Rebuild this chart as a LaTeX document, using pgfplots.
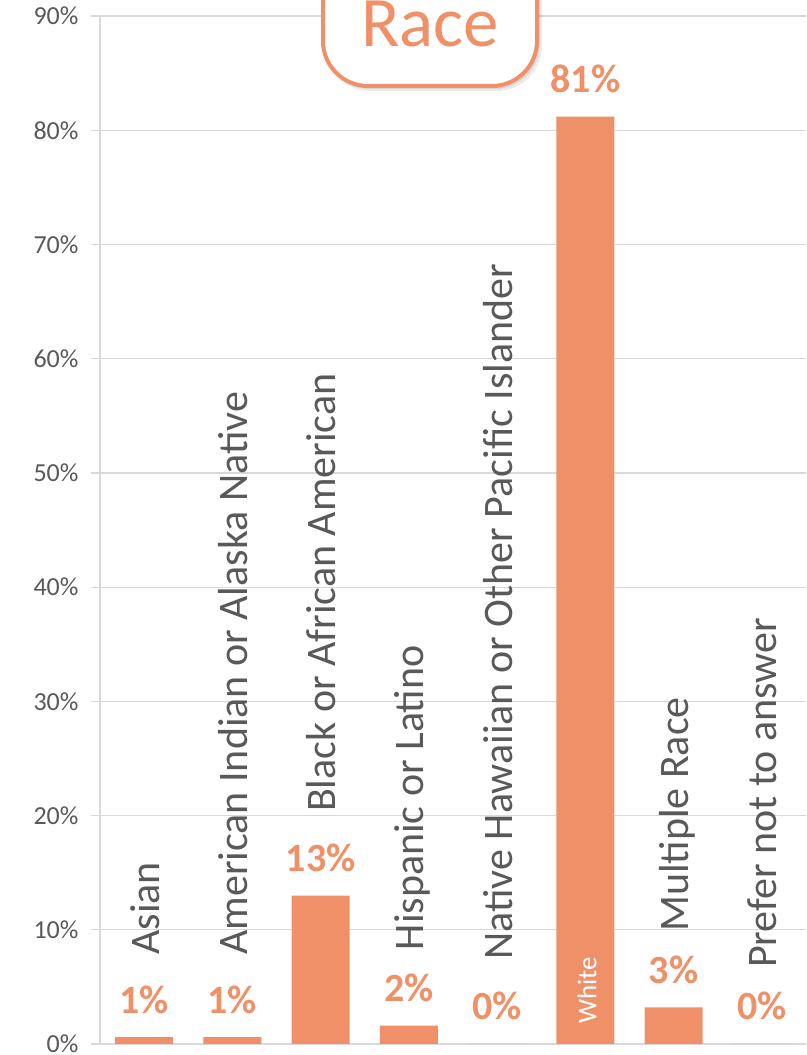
\documentclass[border=0pt]{standalone}
\usepackage{fontspec}
\setmainfont{Carlito}
\usepackage{pgfplots}
\pgfplotsset{compat=1.18}
\definecolor{barorange}{RGB}{240,144,104}
\definecolor{txtgray}{RGB}{89,89,89}
\definecolor{gridgray}{RGB}{217,217,217}
\tikzset{cat/.style={rotate=90, anchor=base west, inner sep=0pt, font=\fontsize{42}{50}\selectfont, text=txtgray}}
\begin{document}
\begin{tikzpicture}
\useasboundingbox (0pt,0pt) rectangle (806pt,1055pt);
\clip (0pt,0pt) rectangle (806pt,1055pt);
\begin{axis}[
  at={(100pt,11pt)}, anchor=south west,
  scale only axis, width=706pt, height=1028pt,
  xmin=-0.5, xmax=7.5, ymin=0, ymax=90,
  ybar, bar width=58pt,
  axis x line=bottom, axis y line=left,
  axis line style={gridgray, line width=1.2pt, -},
  xtick=\empty,
  ytick={0,10,...,90},
  yticklabel={\pgfmathprintnumber{\tick}\%},
  yticklabel style={font=\fontsize{26}{30}\selectfont, text=txtgray, xshift=-9pt},
  /pgf/number format/assume math mode=true,
  tick align=outside, major tick length=9pt,
  tick style={gridgray, line width=1.2pt},
  ymajorgrids, grid style={gridgray, line width=1.2pt},
  clip=false,
]
\addplot[fill=barorange, draw=none,
  nodes near coords={\pgfmathprintnumber[fixed,precision=0]{\pgfplotspointmeta}\%},
  every node near coord/.append style={font=\fontsize{40}{48}\selectfont\bfseries, text=barorange, anchor=base, yshift=24pt, inner sep=0pt},
] coordinates {(0,0.6) (1,0.6) (2,13.0) (3,1.6) (4,0) (5,81.2) (6,3.2) (7,0)};
\node[cat] at ([xshift=15pt]axis cs:0,7.8) {Asian};
\node[cat] at ([xshift=15pt]axis cs:1,7.8) {American Indian or Alaska Native};
\node[cat] at ([xshift=15pt]axis cs:2,20.3) {Black or African American};
\node[cat] at ([xshift=15pt]axis cs:3,8.2) {Hispanic or Latino};
\node[cat] at ([xshift=15pt]axis cs:4,7.4) {Native Hawaiian or Other Pacific Islander};
\node[cat, font=\fontsize{27}{32}\selectfont, text=white] at ([xshift=11pt]axis cs:5,1.75) {White};
\node[cat] at ([xshift=15pt]axis cs:6,9.8) {Multiple Race};
\node[cat] at ([xshift=15pt]axis cs:7,6.65) {Prefer not to answer};
\end{axis}
\fill[black, opacity=0.08, rounded corners=45pt] (325pt,964pt) rectangle (542pt,1110pt);
\fill[black, opacity=0.08, rounded corners=45pt] (324pt,966pt) rectangle (540pt,1110pt);
\draw[barorange, line width=4pt, fill=white, rounded corners=45pt] (323pt,969pt) rectangle (537pt,1110pt);
\node[anchor=base, text=barorange, font=\fontsize{71}{80}\selectfont, inner sep=0pt] at (430pt,1008pt) {Race};
\end{tikzpicture}
\end{document}
